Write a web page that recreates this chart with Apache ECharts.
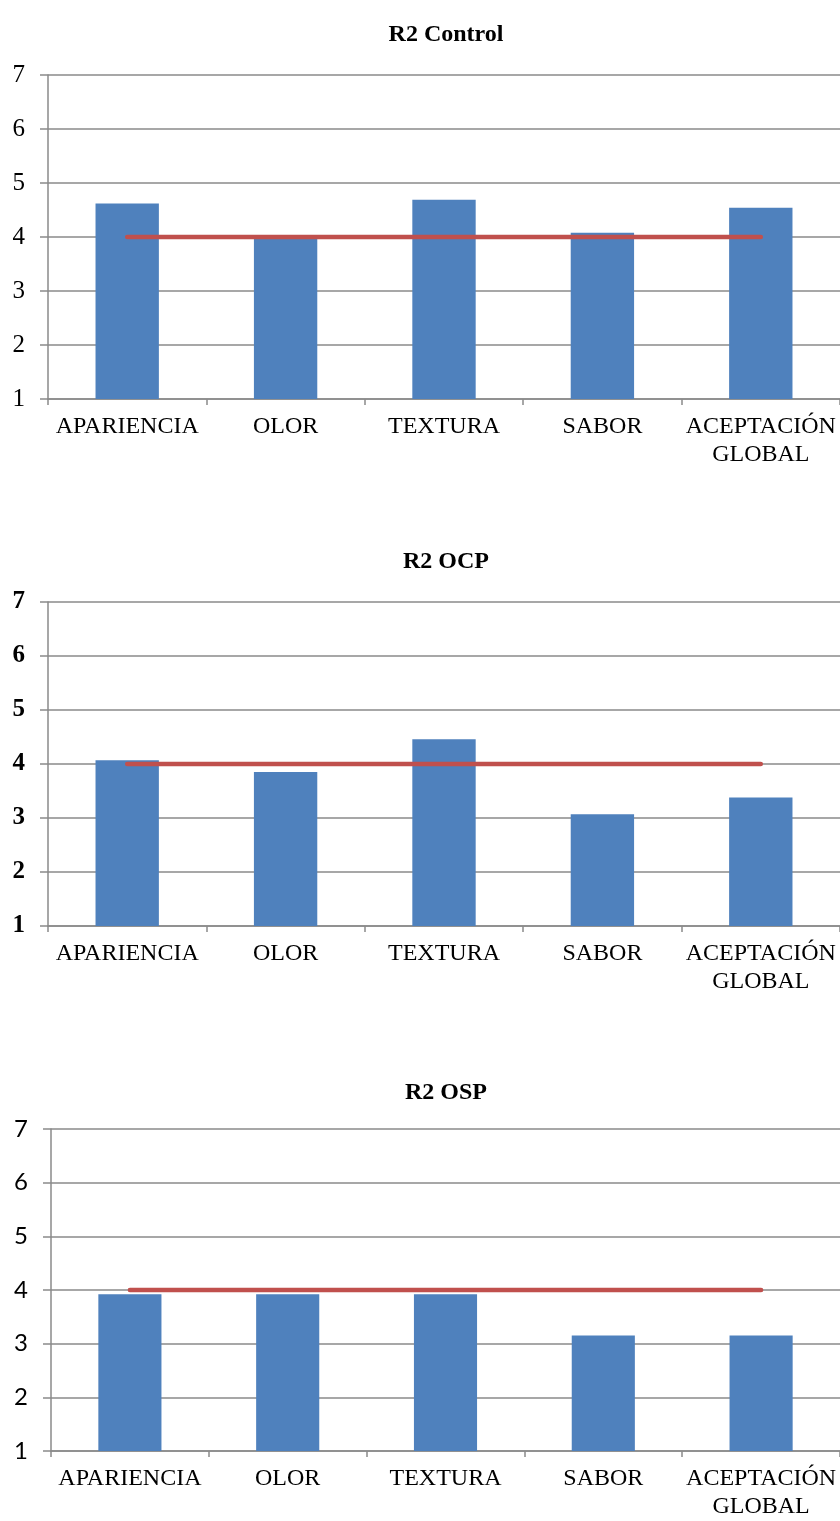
<!DOCTYPE html>
<html>
<head>
<meta charset="utf-8">
<script src="https://cdn.jsdelivr.net/npm/echarts@6/dist/echarts.min.js"></script>
<style>
  html, body { margin: 0; padding: 0; background: #ffffff; }
  #chart { width: 840px; height: 1521px; }
</style>
</head>
<body>
<div id="chart"></div>
<script>
// Sensory attributes scored on a 1–7 scale
const categories = ['APARIENCIA', 'OLOR', 'TEXTURA', 'SABOR', 'ACEPTACIÓN\nGLOBAL'];
const panelTitles = ['R2 Control', 'R2 OCP', 'R2 OSP'];
const controlScores = [4.62, 4.0, 4.69, 4.08, 4.54];
const ocpScores = [4.07, 3.85, 4.46, 3.07, 3.38];
const ospScores = [3.92, 3.92, 3.92, 3.15, 3.15];
const acceptanceLimit = [4, 4, 4, 4, 4];
const yTicks = [1, 2, 3, 4, 5, 6, 7];

const panels = [controlScores, ocpScores, ospScores];

const serif = '"Liberation Serif", "Times New Roman", serif';
const sans = 'Lato, "Noto Sans", sans-serif';
const gridColor = '#8a8a8a';

// Per-panel layout
const layout = [
  { top: 75, left: 48, titleTop: 18, yFont: serif, yWeight: 'normal', ySize: 25 },
  { top: 602, left: 48, titleTop: 545, yFont: serif, yWeight: 'bold', ySize: 25 },
  { top: 1129, left: 51, titleTop: 1076, yFont: sans, yWeight: 'normal', ySize: 24 }
];
const plotHeight = 324;

const chart = echarts.init(document.getElementById('chart'), null, { renderer: 'canvas' });

const option = {
  backgroundColor: '#ffffff',
  animation: false,
  title: layout.map((l, i) => ({
    text: panelTitles[i],
    left: 441,
    top: l.titleTop,
    textAlign: 'center',
    textStyle: { fontFamily: serif, fontWeight: 'bold', fontSize: 24, color: '#000' }
  })),
  grid: layout.map(l => ({
    left: l.left,
    top: l.top,
    width: 840 - l.left,
    height: plotHeight,
    containLabel: false
  })),
  xAxis: layout.map((l, i) => ({
    type: 'category',
    gridIndex: i,
    data: categories,
    boundaryGap: true,
    axisLine: { show: true, lineStyle: { color: gridColor, width: 1.5 } },
    axisTick: { show: true, length: 6, lineStyle: { color: gridColor, width: 1.5 } },
    axisLabel: {
      interval: 0,
      margin: 14,
      fontFamily: serif,
      fontSize: 24,
      lineHeight: 28,
      color: '#000',
      align: 'center'
    }
  })),
  yAxis: layout.map((l, i) => ({
    type: 'value',
    gridIndex: i,
    min: yTicks[0],
    max: yTicks[yTicks.length - 1],
    interval: 1,
    axisLine: { show: true, lineStyle: { color: gridColor, width: 1.5 } },
    axisTick: { show: true, length: 8, lineStyle: { color: gridColor, width: 1.5 } },
    splitLine: { show: true, lineStyle: { color: gridColor, width: 1.5 } },
    axisLabel: {
      margin: 23,
      fontFamily: l.yFont,
      fontWeight: l.yWeight,
      fontSize: l.ySize,
      color: '#000'
    }
  })),
  series: panels.flatMap((scores, i) => ([
    {
      type: 'bar',
      xAxisIndex: i,
      yAxisIndex: i,
      data: scores,
      barWidth: '40%',
      itemStyle: { color: '#4F81BD' },
      z: 2
    },
    {
      type: 'line',
      xAxisIndex: i,
      yAxisIndex: i,
      data: acceptanceLimit,
      symbol: 'none',
      lineStyle: { color: '#C0504D', width: 4.5, cap: 'round' },
      z: 3
    }
  ]))
};

chart.setOption(option);
</script>
</body>
</html>
